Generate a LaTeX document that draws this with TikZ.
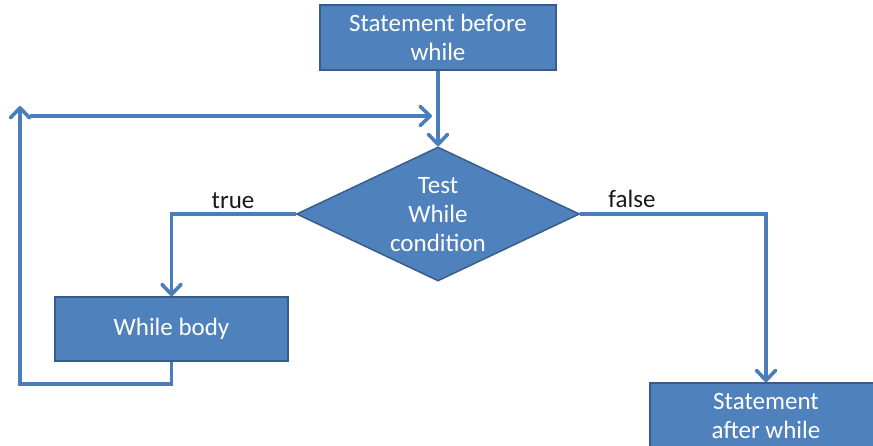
\documentclass[tikz,border=0pt]{standalone}
\usepackage{fontspec}
\setmainfont{Carlito}
\usetikzlibrary{arrows.meta,shapes.geometric}
\definecolor{boxfill}{HTML}{4F81BD}
\definecolor{boxedge}{HTML}{385D8A}
\definecolor{flow}{HTML}{4A7EBB}
\begin{document}
\begin{tikzpicture}[x=1pt,y=-1pt,
  block/.style={draw=boxedge,line width=1.5pt,fill=boxfill,text=white,
    font=\fontsize{25}{29}\selectfont,align=center,inner sep=0pt},
  decision/.style={diamond,draw=boxedge,line width=1.5pt,fill=boxfill,inner sep=0pt},
  celltext/.style={text=white,font=\fontsize{25}{29}\selectfont,align=center,inner sep=0pt},
  branchlbl/.style={text=black!90,font=\fontsize{25}{29}\selectfont,inner sep=0pt},
  flowline/.style={draw=flow,line width=3.6pt,
    -{Straight Barb[length=10pt,width=19pt,round]}}]
\useasboundingbox (0,0) rectangle (873,446);
\clip (0,0) rectangle (873,446);

% boxes
\node[block,minimum width=236pt,minimum height=65pt] (before) at (438,37.5)
  {Statement before\\while};
\node[decision,minimum width=283pt,minimum height=134pt] (cond) at (438,214) {};
\node[celltext] (condtext) at (438,215) {Test\\While\\condition};
\node[block,minimum width=233pt,minimum height=64pt] (body) at (171.5,329)
  {While body};
\node[block,minimum width=232pt,minimum height=65pt] (after) at (766,415.5)
  {Statement\\after while};

% branch labels
\node[branchlbl] (truelbl) at (233,201) {true};
\node[branchlbl] (falselbl) at (632,199) {false};

% loop-back coordinates
\coordinate (loopup) at (20,106);
\coordinate (loopfrom) at (30,116);
\coordinate (loopto) at (432,116);

% connectors
\draw[flowline] (before.south) -- (cond.north);
\draw[flowline] (cond.west) -| (body.north);
\draw[flowline] (cond.east) -| (after.north);
\draw[flowline] (body.south) -- ++(0,22) -| (loopup);
\draw[flowline] (loopfrom) -- (loopto);
\end{tikzpicture}
\end{document}
